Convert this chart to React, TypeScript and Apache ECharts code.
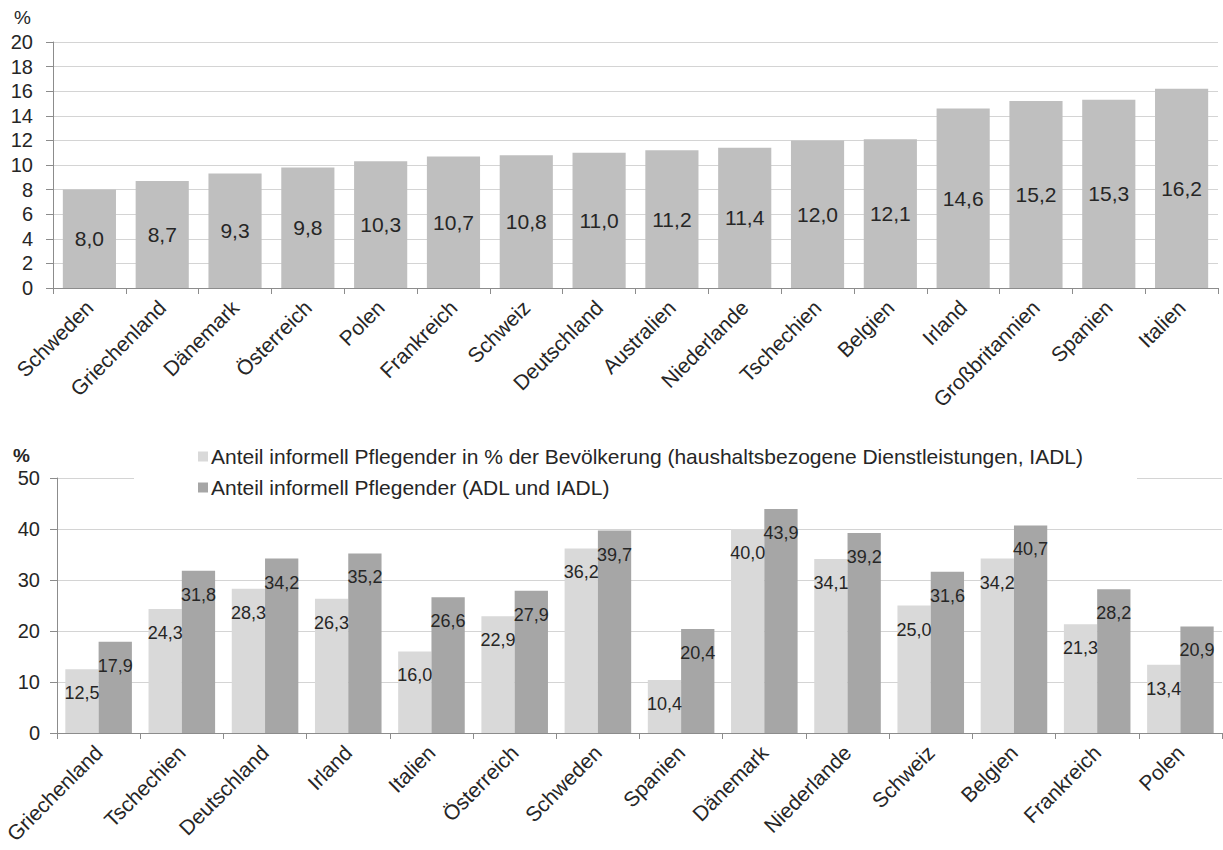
import React, { useEffect, useRef } from "react";
import * as echarts from "echarts";

const topCategories = ["Schweden", "Griechenland", "Dänemark", "Österreich", "Polen", "Frankreich", "Schweiz", "Deutschland", "Australien", "Niederlande", "Tschechien", "Belgien", "Irland", "Großbritannien", "Spanien", "Italien"];
const topValues = [8.0, 8.7, 9.3, 9.8, 10.3, 10.7, 10.8, 11.0, 11.2, 11.4, 12.0, 12.1, 14.6, 15.2, 15.3, 16.2];

const bottomCategories = ["Griechenland", "Tschechien", "Deutschland", "Irland", "Italien", "Österreich", "Schweden", "Spanien", "Dänemark", "Niederlande", "Schweiz", "Belgien", "Frankreich", "Polen"];
const iadlValues = [12.5, 24.3, 28.3, 26.3, 16.0, 22.9, 36.2, 10.4, 40.0, 34.1, 25.0, 34.2, 21.3, 13.4];
const adlIadlValues = [17.9, 31.8, 34.2, 35.2, 26.6, 27.9, 39.7, 20.4, 43.9, 39.2, 31.6, 40.7, 28.2, 20.9];

const seriesNameIadl = "Anteil informell Pflegender in % der Bevölkerung (haushaltsbezogene Dienstleistungen, IADL)";
const seriesNameAdl = "Anteil informell Pflegender (ADL und IADL)";

const FONT = "'Liberation Sans', Arial, sans-serif";
const TEXT = "#262626";
const AXIS = "#8c8c8c";
const GRID = "#d4d4d4";

const fmt = (v: number) => v.toFixed(1).replace(".", ",");

export default function App() {
  const ref = useRef<HTMLDivElement>(null);
  useEffect(() => {
    if (!ref.current) return;
    const chart = echarts.init(ref.current, null, { renderer: "svg" });
    const yAxisCommon = {
      type: "value" as const,
      axisLine: { show: true, lineStyle: { color: AXIS, width: 1 } },
      axisTick: { show: true, length: 7, lineStyle: { color: AXIS } },
      splitLine: { show: true, lineStyle: { color: GRID, width: 1 } },
      axisLabel: { color: TEXT, fontSize: 20, fontFamily: FONT },
    };
    const xAxisCommon = {
      type: "category" as const,
      axisLine: { show: true, lineStyle: { color: AXIS, width: 1 } },
      axisTick: { show: true, length: 6, lineStyle: { color: AXIS } },
      axisLabel: { color: TEXT, fontSize: 21, fontFamily: FONT, rotate: 45, interval: 0, margin: 16 },
    };
    chart.setOption({
      animation: false,
      textStyle: { fontFamily: FONT },
      grid: [
        { left: 53, top: 42, right: 5, height: 246, containLabel: false },
        { left: 57, top: 478, right: 1, height: 255, containLabel: false },
      ],
      xAxis: [
        { ...xAxisCommon, gridIndex: 0, data: topCategories },
        { ...xAxisCommon, gridIndex: 1, data: bottomCategories },
      ],
      yAxis: [
        { ...yAxisCommon, gridIndex: 0, min: 0, max: 20, interval: 2, axisLabel: { ...yAxisCommon.axisLabel, margin: 20 } },
        { ...yAxisCommon, gridIndex: 1, min: 0, max: 50, interval: 10, axisLabel: { ...yAxisCommon.axisLabel, margin: 17 } },
      ],
      legend: {
        data: [seriesNameIadl, seriesNameAdl],
        orient: "vertical",
        left: 134,
        top: 440,
        padding: [6, 54, 6, 64],
        backgroundColor: "#ffffff",
        itemWidth: 10,
        itemHeight: 10,
        itemGap: 10,
        icon: "rect",
        textStyle: { color: TEXT, fontSize: 21, fontFamily: FONT, padding: [0, 0, 0, -2] },
        selectedMode: false,
      },
      graphic: [
        { type: "text", left: 14, top: 8, style: { text: "%", fontSize: 19, fill: TEXT, fontFamily: FONT } },
        { type: "text", left: 13, top: 446, style: { text: "%", fontSize: 19, fontWeight: "bold", fill: TEXT, fontFamily: FONT } },
      ],
      series: [
        {
          type: "bar",
          xAxisIndex: 0,
          yAxisIndex: 0,
          data: topValues,
          barCategoryGap: "27%",
          itemStyle: { color: "#bfbfbf" },
          label: { show: true, position: "inside", color: TEXT, fontSize: 21, fontFamily: FONT, formatter: (p: any) => fmt(p.value) },
        },
        {
          name: seriesNameIadl,
          type: "bar",
          xAxisIndex: 1,
          yAxisIndex: 1,
          data: iadlValues,
          barGap: "0%",
          barCategoryGap: "20%",
          itemStyle: { color: "#d9d9d9" },
          label: { show: true, position: "insideTop", distance: 15, color: TEXT, fontSize: 18, fontFamily: FONT, formatter: (p: any) => fmt(p.value) },
        },
        {
          name: seriesNameAdl,
          type: "bar",
          xAxisIndex: 1,
          yAxisIndex: 1,
          data: adlIadlValues,
          barGap: "0%",
          barCategoryGap: "20%",
          itemStyle: { color: "#a6a6a6" },
          label: { show: true, position: "insideTop", distance: 15, color: TEXT, fontSize: 18, fontFamily: FONT, formatter: (p: any) => fmt(p.value) },
        },
      ],
    });
    return () => chart.dispose();
  }, []);
  return (
    <div
      ref={ref}
      style={{ position: "fixed", left: 0, top: 0, width: 1223, height: 850, background: "#ffffff" }}
    />
  );
}
